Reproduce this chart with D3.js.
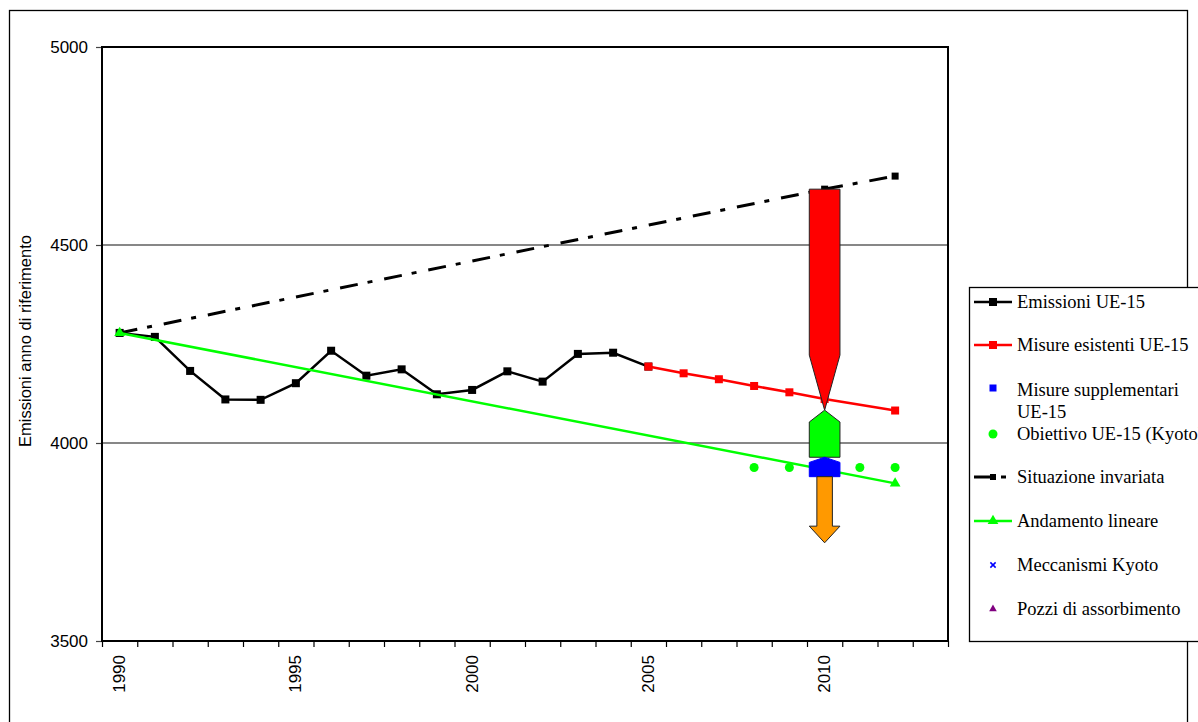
<!DOCTYPE html>
<html><head><meta charset="utf-8">
<script src="https://cdn.jsdelivr.net/npm/d3@7"></script>
<style>
html,body{margin:0;padding:0;background:#fff;}
svg{display:block;}
</style></head>
<body>
<svg id="chart" width="1198" height="722"></svg>
<script>
// ---------- data ----------
const categories = d3.range(1990, 2014); // category axis 1990..2013
const xTickLabels = [1990, 1995, 2000, 2005, 2010];
const yTicks = [3500, 4000, 4500, 5000];

const emissioniYears = [1990,1991,1992,1993,1994,1995,1996,1997,1998,1999,2000,2001,2002,2003,2004,2005];
const emissioniValues = [4278,4268,4182,4110,4109,4151,4233,4170,4186,4123,4134,4181,4155,4225,4228,4193];

const misureEsistentiYears = [2005,2006,2007,2008,2009,2010,2012];
const misureEsistentiValues = [4193,4176,4161,4144,4128,4111,4082];

const obiettivoYears = [2008,2009,2010,2011,2012];
const obiettivoValues = [3938,3938,3938,3938,3938];

const invariataYears = [1990,2010,2012];
const invariataValues = [4278,4641,4674];

const lineareYears = [1990,2012];
const lineareValues = [4278,3898];

// arrows drawn at year 2010 (values in emission units)
const arrowYear = 2010;
const redArrow = {top:4641, shaftEnd:4222, tip:4083};
const greenArrow = {tip:4083, shoulder:4053, bottom:3964};
const blueArrow = {tip:3964, shoulder:3951, bottom:3915};
const orangeArrow = {top:3915, shaftEnd:3790, tip:3748};

const legendLabels = ["Emissioni UE-15","Misure esistenti UE-15",["Misure supplementari","UE-15"],"Obiettivo UE-15 (Kyoto)","Situazione invariata","Andamento lineare","Meccanismi Kyoto","Pozzi di assorbimento"];

// ---------- layout ----------
const svg = d3.select("#chart");
const plot = {left:102, right:948, top:47, bottom:641};

const x = d3.scaleBand().domain(categories).range([plot.left, plot.right]).padding(0);
const xEdge = d3.scaleLinear().domain([1990, 2014]).range([plot.left, plot.right]);
const y = d3.scaleLinear().domain([3500, 5000]).range([plot.bottom, plot.top]);
const bw = x.bandwidth();
const cx = yr => x(yr) + bw/2;

// outer border
svg.append("rect").attr("x",9.5).attr("y",10.5).attr("width",1178).attr("height",730)
  .attr("fill","none").attr("stroke","#000").attr("stroke-width",1.3);

// gridlines
svg.append("g").selectAll("line").data([4000,4500]).join("line")
  .attr("x1",plot.left).attr("x2",plot.right)
  .attr("y1",d=>y(d)).attr("y2",d=>y(d))
  .attr("stroke","#111").attr("stroke-width",1.1);

// y axis
const yAxis = svg.append("g").attr("transform",`translate(${plot.left},0)`)
  .call(d3.axisLeft(y).tickValues(yTicks).tickSize(6).tickPadding(8).tickFormat(d3.format("d")));
yAxis.select(".domain").remove();
yAxis.selectAll("line").attr("stroke","#444").attr("stroke-width",1.2);
yAxis.selectAll("text").attr("font-family","'Liberation Sans', Arial, sans-serif").attr("font-size",17).attr("fill","#000");

// x axis ticks at category boundaries
const xAxis = svg.append("g").attr("transform",`translate(0,${plot.bottom})`)
  .call(d3.axisBottom(xEdge).tickValues(d3.range(1990,2015)).tickSize(6).tickFormat(""));
xAxis.select(".domain").remove();
xAxis.selectAll("line").attr("stroke","#000").attr("stroke-width",1.2);

svg.append("g").selectAll("text").data(xTickLabels).join("text")
  .attr("transform",d=>`translate(${cx(d)},${plot.bottom+14}) rotate(-90)`)
  .attr("text-anchor","end").attr("dominant-baseline","central")
  .attr("font-family","'Liberation Sans', Arial, sans-serif").attr("font-size",17)
  .text(d=>d);

// y title
svg.append("text").attr("transform","translate(25,341) rotate(-90)")
  .attr("text-anchor","middle").attr("dominant-baseline","central")
  .attr("font-family","'Liberation Sans', Arial, sans-serif").attr("font-size",16.5)
  .text("Emissioni anno di riferimento");

// plot frame
svg.append("rect").attr("x",plot.left).attr("y",plot.top)
  .attr("width",plot.right-plot.left).attr("height",plot.bottom-plot.top)
  .attr("fill","none").attr("stroke","#000").attr("stroke-width",2);

const line = d3.line().x(d=>cx(d[0])).y(d=>y(d[1]));
const zip = (a,b)=>a.map((v,i)=>[v,b[i]]);

// Emissioni
const em = zip(emissioniYears, emissioniValues);
svg.append("path").datum(em).attr("d",line).attr("fill","none").attr("stroke","#000").attr("stroke-width",2.5);
svg.append("g").selectAll("rect").data(em).join("rect")
  .attr("x",d=>cx(d[0])-4).attr("y",d=>y(d[1])-4).attr("width",8).attr("height",8).attr("fill","#000");

// Misure esistenti
const me = zip(misureEsistentiYears, misureEsistentiValues);
svg.append("path").datum(me).attr("d",line).attr("fill","none").attr("stroke","#f00").attr("stroke-width",2.5);
svg.append("g").selectAll("rect").data(me).join("rect")
  .attr("x",d=>cx(d[0])-4).attr("y",d=>y(d[1])-4).attr("width",8).attr("height",8).attr("fill","#f00");

// Obiettivo
const ob = zip(obiettivoYears, obiettivoValues);
svg.append("g").selectAll("circle").data(ob).join("circle")
  .attr("cx",d=>cx(d[0])).attr("cy",d=>y(d[1])).attr("r",4.5).attr("fill","#00ff00");

// Situazione invariata
const si = zip(invariataYears, invariataValues);
svg.append("path").datum(si).attr("d",line).attr("fill","none").attr("stroke","#000")
  .attr("stroke-width",3).attr("stroke-dasharray","18,10,5,12");
svg.append("g").selectAll("rect").data(si).join("rect")
  .attr("x",d=>cx(d[0])-3.5).attr("y",d=>y(d[1])-3.5).attr("width",7).attr("height",7).attr("fill","#000");

// Andamento lineare
const al = zip(lineareYears, lineareValues);
svg.append("path").datum(al).attr("d",line).attr("fill","none").attr("stroke","#00ff00").attr("stroke-width",2.5);
const tri = d3.symbol().type(d3.symbolTriangle).size(50);
svg.append("g").selectAll("path").data(al).join("path")
  .attr("transform",d=>`translate(${cx(d[0])},${y(d[1])})`).attr("d",tri).attr("fill","#00ff00");

// arrows
const ac = cx(arrowYear);
const wide = bw*0.87/2, narrow = bw*0.44/2;
const poly = pts => "M"+pts.map(p=>p.join(",")).join("L")+"Z";
svg.append("path").attr("d",poly([
  [ac-wide,y(redArrow.top)],[ac+wide,y(redArrow.top)],[ac+wide,y(redArrow.shaftEnd)],
  [ac,y(redArrow.tip)],[ac-wide,y(redArrow.shaftEnd)]]))
  .attr("fill","#f00").attr("stroke","#222").attr("stroke-width",1);
svg.append("path").attr("d",poly([
  [ac,y(greenArrow.tip)],[ac+wide,y(greenArrow.shoulder)],[ac+wide,y(greenArrow.bottom)],
  [ac-wide,y(greenArrow.bottom)],[ac-wide,y(greenArrow.shoulder)]]))
  .attr("fill","#00ff00").attr("stroke","#222").attr("stroke-width",1);
svg.append("path").attr("d",poly([
  [ac,y(blueArrow.tip)],[ac+wide,y(blueArrow.shoulder)],[ac+wide,y(blueArrow.bottom)],
  [ac-wide,y(blueArrow.bottom)],[ac-wide,y(blueArrow.shoulder)]]))
  .attr("fill","#0000ff").attr("stroke","#0000ff").attr("stroke-width",1);
svg.append("path").attr("d",poly([
  [ac-narrow,y(orangeArrow.top)],[ac+narrow,y(orangeArrow.top)],[ac+narrow,y(orangeArrow.shaftEnd)],
  [ac+wide,y(orangeArrow.shaftEnd)],[ac,y(orangeArrow.tip)],[ac-wide,y(orangeArrow.shaftEnd)],
  [ac-narrow,y(orangeArrow.shaftEnd)]]))
  .attr("fill","#ff9900").attr("stroke","#222").attr("stroke-width",1);

// legend
const lg = svg.append("g");
lg.append("rect").attr("x",969.5).attr("y",287.5).attr("width",260).attr("height",354)
  .attr("fill","#fff").attr("stroke","#000").attr("stroke-width",1.3);
const rowsY = [302,345,390,434,477,521,565,609];
const lx1 = 974, lx2 = 1012, lmx = 993, tx = 1017;
const font = "'Liberation Serif','Times New Roman',serif";
legendLabels.forEach((lab,i)=>{
  const ly = rowsY[i];
  const lines = Array.isArray(lab)?lab:[lab];
  const t = lg.append("text").attr("x",tx).attr("y",ly).attr("dominant-baseline","central")
    .attr("font-family",font).attr("font-size",18.5).attr("fill","#000");
  lines.forEach((s,j)=>t.append("tspan").attr("x",tx).attr("dy",j===0?0:22).text(s));
});
// legend symbols
lg.append("line").attr("x1",lx1).attr("x2",lx2).attr("y1",rowsY[0]).attr("y2",rowsY[0]).attr("stroke","#000").attr("stroke-width",2.5);
lg.append("rect").attr("x",lmx-4).attr("y",rowsY[0]-4).attr("width",8).attr("height",8).attr("fill","#000");
lg.append("line").attr("x1",lx1).attr("x2",lx2).attr("y1",rowsY[1]).attr("y2",rowsY[1]).attr("stroke","#f00").attr("stroke-width",2.5);
lg.append("rect").attr("x",lmx-4).attr("y",rowsY[1]-4).attr("width",8).attr("height",8).attr("fill","#f00");
lg.append("rect").attr("x",lmx-3.5).attr("y",rowsY[2]-5.5).attr("width",7).attr("height",7).attr("fill","#0000ff");
lg.append("circle").attr("cx",lmx).attr("cy",rowsY[3]).attr("r",4.5).attr("fill","#00ff00");
lg.append("line").attr("x1",lx1).attr("x2",lx2).attr("y1",rowsY[4]).attr("y2",rowsY[4]).attr("stroke","#000").attr("stroke-width",3).attr("stroke-dasharray","18,9,5,12");
lg.append("rect").attr("x",lmx-3).attr("y",rowsY[4]-3).attr("width",6).attr("height",6).attr("fill","#000");
lg.append("line").attr("x1",lx1).attr("x2",lx2).attr("y1",rowsY[5]).attr("y2",rowsY[5]).attr("stroke","#00ff00").attr("stroke-width",2.5);
lg.append("path").attr("transform",`translate(${lmx},${rowsY[5]})`).attr("d",tri).attr("fill","#00ff00");
lg.append("path").attr("transform",`translate(${lmx},${rowsY[6]})`).attr("d",d3.symbol().type(d3.symbolX).size(20)).attr("stroke","#0000ff").attr("stroke-width",1.5).attr("fill","none");
lg.append("path").attr("transform",`translate(${lmx},${rowsY[7]})`).attr("d",d3.symbol().type(d3.symbolTriangle).size(25)).attr("fill","#800080");
</script>
</body></html>
